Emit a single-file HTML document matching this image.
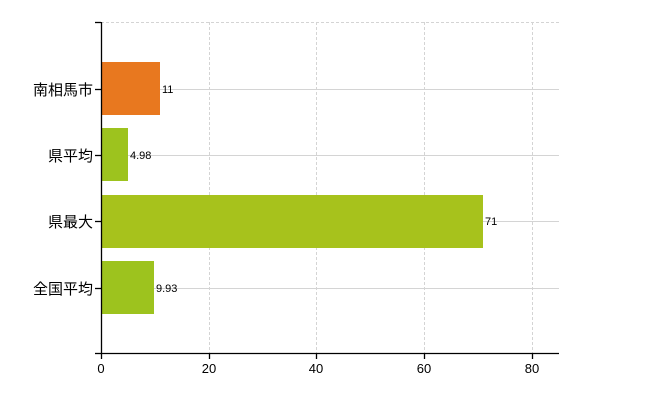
<!DOCTYPE html>
<html><head><meta charset="utf-8"><style>body{margin:0;background:#fff}svg{display:block}text{font-family:"Liberation Sans","Noto Sans CJK JP",sans-serif}</style></head><body>
<svg width="650" height="400" viewBox="0 0 650 400">
<g stroke="#d4d4d4" stroke-width="1">
<line x1="101" y1="22.5" x2="559" y2="22.5" stroke-dasharray="3,2"/>
<line x1="101" y1="89.5" x2="559" y2="89.5"/>
<line x1="101" y1="155.5" x2="559" y2="155.5"/>
<line x1="101" y1="221.5" x2="559" y2="221.5"/>
<line x1="101" y1="288.5" x2="559" y2="288.5"/>
<line x1="209.5" y1="22" x2="209.5" y2="353" stroke-dasharray="3,2"/>
<line x1="316.5" y1="22" x2="316.5" y2="353" stroke-dasharray="3,2"/>
<line x1="424.5" y1="22" x2="424.5" y2="353" stroke-dasharray="3,2"/>
<line x1="532.5" y1="22" x2="532.5" y2="353" stroke-dasharray="3,2"/>
</g>
<rect x="101" y="62" width="59" height="53" fill="#e8781f"/>
<rect x="101" y="128" width="27" height="53" fill="#9dc31e"/>
<rect x="101" y="195" width="382" height="53" fill="#a7c21c"/>
<rect x="101" y="261" width="53" height="53" fill="#9dc31e"/>
<g font-size="11" fill="#000">
<text x="162" y="93">11</text>
<text x="130" y="159">4.98</text>
<text x="485" y="225">71</text>
<text x="156" y="292">9.93</text>
</g>
<g stroke="#000" stroke-width="1.3">
<line x1="101.5" y1="22" x2="101.5" y2="354"/>
<line x1="101" y1="353.5" x2="559" y2="353.5"/>
<line x1="95" y1="22.5" x2="101" y2="22.5"/>
<line x1="95" y1="89.5" x2="101" y2="89.5"/>
<line x1="95" y1="155.5" x2="101" y2="155.5"/>
<line x1="95" y1="221.5" x2="101" y2="221.5"/>
<line x1="95" y1="288.5" x2="101" y2="288.5"/>
<line x1="95" y1="353.5" x2="101" y2="353.5"/>
<line x1="101.5" y1="353" x2="101.5" y2="359"/>
<line x1="209.5" y1="353" x2="209.5" y2="359"/>
<line x1="316.5" y1="353" x2="316.5" y2="359"/>
<line x1="424.5" y1="353" x2="424.5" y2="359"/>
<line x1="532.5" y1="353" x2="532.5" y2="359"/>
</g>
<g font-size="15" fill="#000" text-anchor="end">
<text x="93" y="95">南相馬市</text>
<text x="93" y="161">県平均</text>
<text x="93" y="227">県最大</text>
<text x="93" y="294">全国平均</text>
</g>
<g font-size="13" fill="#000" text-anchor="middle">
<text x="101" y="373">0</text>
<text x="209" y="373">20</text>
<text x="316" y="373">40</text>
<text x="424" y="373">60</text>
<text x="532" y="373">80</text>
</g>
</svg>
</body></html>
